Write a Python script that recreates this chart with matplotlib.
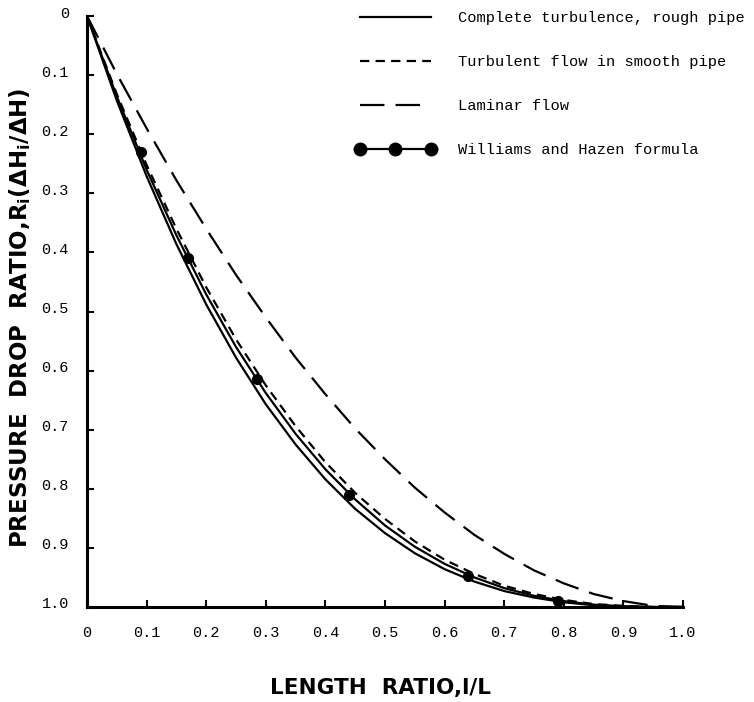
import matplotlib
matplotlib.use("Agg")
import matplotlib.pyplot as plt
import matplotlib.transforms as mtransforms
from matplotlib.lines import Line2D

# ---- data ----
x_vals = [0.0, 0.05, 0.10, 0.15, 0.20, 0.25, 0.30, 0.35, 0.40, 0.45, 0.50,
          0.55, 0.60, 0.65, 0.70, 0.75, 0.80, 0.85, 0.90, 0.95, 1.0]
rough_pipe = [0.0, 0.143, 0.271, 0.386, 0.488, 0.578, 0.657, 0.725, 0.784, 0.834, 0.875,
              0.909, 0.936, 0.957, 0.973, 0.984, 0.992, 0.997, 0.999, 1.0, 1.0]
williams_hazen = [0.0, 0.136, 0.260, 0.371, 0.471, 0.560, 0.638, 0.707, 0.767, 0.818, 0.862,
                  0.898, 0.927, 0.950, 0.968, 0.981, 0.990, 0.996, 0.999, 1.0, 1.0]
smooth_pipe = [0.0, 0.132, 0.252, 0.360, 0.459, 0.547, 0.625, 0.694, 0.755, 0.807, 0.851,
               0.889, 0.920, 0.944, 0.964, 0.978, 0.988, 0.995, 0.998, 1.0, 1.0]
laminar = [0.0, 0.098, 0.190, 0.278, 0.360, 0.438, 0.510, 0.578, 0.640, 0.698, 0.750,
           0.798, 0.840, 0.878, 0.910, 0.938, 0.960, 0.978, 0.990, 0.998, 1.0]
wh_dot_x = [0.09, 0.17, 0.285, 0.44, 0.64, 0.79]
wh_dot_y = [0.23, 0.41, 0.615, 0.81, 0.947, 0.99]

tick_vals = [0.0, 0.1, 0.2, 0.3, 0.4, 0.5, 0.6, 0.7, 0.8, 0.9, 1.0]
tick_labels = ["0", "0.1", "0.2", "0.3", "0.4", "0.5", "0.6", "0.7", "0.8", "0.9", "1.0"]

legend_labels = ["Complete turbulence, rough pipe", "Turbulent flow in smooth pipe",
                 "Laminar flow", "Williams and Hazen formula"]

plt.rcParams["mathtext.fontset"] = "dejavusans"
mono = "Liberation Mono"

fig = plt.figure(figsize=(7.54, 7.02), dpi=100)
ax = fig.add_axes([87/754, 1 - 607/702, 596/754, 591/702])

lw = 1.6
ax.plot(x_vals, rough_pipe, color="black", lw=lw)
ax.plot(x_vals, williams_hazen, color="black", lw=lw)
ax.plot(wh_dot_x, wh_dot_y, "o", color="black", ms=7)
ax.plot(x_vals, smooth_pipe, color="black", lw=lw, dashes=(4.2, 2.8))
ax.plot(x_vals, laminar, color="black", lw=lw, dashes=(11, 5))

ax.set_xlim(0, 1.0)
ax.set_ylim(1.0, 0)
ax.set_xticks(tick_vals)
ax.set_xticklabels(tick_labels, family=mono, fontsize=11)
ax.set_yticks(tick_vals)
ax.set_yticklabels(tick_labels, family=mono, fontsize=11)
ax.tick_params(direction="in", length=5, width=1.5, pad=14)
ax.tick_params(axis="y", pad=13)
shift = mtransforms.ScaledTranslation(0, 4/100, fig.dpi_scale_trans)
for lab in ax.get_yticklabels():
    lab.set_transform(lab.get_transform() + shift)
for s in ["top", "right"]:
    ax.spines[s].set_visible(False)
for s in ["left", "bottom"]:
    ax.spines[s].set_linewidth(2.2)

ax.set_xlabel("LENGTH  RATIO,l/L", fontsize=15.5, fontweight="bold")
ax.xaxis.set_label_coords((381 - 87) / 596, (607 - 678) / 591)
ax.set_ylabel(r"PRESSURE  DROP  RATIO,R$_{\mathbf{i}}$($\mathbf{\Delta}$H$_{\mathbf{i}}$/$\mathbf{\Delta}$H)",
              fontsize=16.5, fontweight="bold")
ax.yaxis.set_label_coords((33 - 87) / 596, (607 - 318) / 591)

handles = [
    Line2D([], [], color="black", lw=lw),
    Line2D([], [], color="black", lw=lw, dashes=(4.2, 2.8)),
    Line2D([], [], color="black", lw=lw, dashes=(11, 5)),
    Line2D([], [], color="black", lw=lw, marker="o", ms=9),
]
leg = fig.legend(handles, legend_labels, loc="upper left",
                 bbox_to_anchor=(355/754, 1 - 11/702), frameon=False,
                 prop={"family": mono, "size": 11.1}, handlelength=5.2,
                 handletextpad=1.45, labelspacing=1.95, numpoints=3,
                 borderaxespad=0, borderpad=0)

fig.savefig("out.png", dpi=100, facecolor="white")
